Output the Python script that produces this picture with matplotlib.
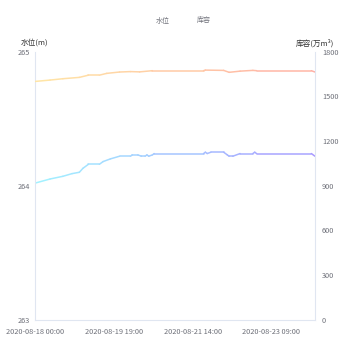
import numpy as np
import pandas as pd
import matplotlib
matplotlib.use('Agg')
import matplotlib.pyplot as plt
from matplotlib.collections import LineCollection
from matplotlib.colors import LinearSegmentedColormap

plt.rcParams['font.family'] = ['Noto Sans CJK SC', 'DejaVu Sans']

# time axis: hourly from 2020-08-18 00:00, label every 43 hours
start = pd.Timestamp('2020-08-18 00:00')
n_hours = 153
tick_hours = [0, 43, 86, 129]
tick_labels = [(start + pd.Timedelta(hours=h)).strftime('%Y-%m-%d %H:%M') for h in tick_hours]

# 水位 (m), left axis
level_hours = [0, 8, 15, 20, 24, 26, 29, 35, 37, 41, 46, 52, 53, 56, 58, 60, 61, 62,
               64, 65, 92, 93, 94, 96, 103, 105, 106, 108, 112, 119, 120, 121, 151, 153]
level = [264.02, 264.05, 264.07, 264.09, 264.10, 264.13, 264.16, 264.16, 264.18, 264.20,
         264.22, 264.22, 264.23, 264.23, 264.22, 264.22, 264.23, 264.22, 264.23, 264.24,
         264.24, 264.25, 264.24, 264.25, 264.25, 264.23, 264.22, 264.22, 264.24, 264.24,
         264.25, 264.24, 264.24, 264.22]

# 库容 (万m³), right axis
vol_hours = [0, 8, 15, 24, 29, 35, 39, 46, 52, 57, 64, 92, 93, 103, 106, 112, 119, 121, 151, 153]
volume = [1601, 1610, 1619, 1628, 1643, 1643, 1655, 1664, 1667, 1665, 1673, 1673, 1677,
          1675, 1662, 1670, 1675, 1673, 1673, 1664]

left_ticks = [263, 264, 265]
right_ticks = [0, 300, 600, 900, 1200, 1500, 1800]

grey = '#6e7079'
axis_col = '#e0e6f1'
blue_cmap = LinearSegmentedColormap.from_list('b', ['#a3f3ff', '#a99aff'])
orange_cmap = LinearSegmentedColormap.from_list('o', ['#ffe6a6', '#ffb0a6'])


def gradient_line(ax, x, y, cmap, lw=1.1):
    pts = np.column_stack([x, y])
    segs = np.stack([pts[:-1], pts[1:]], axis=1)
    mid = (np.asarray(x[:-1]) + np.asarray(x[1:])) / 2.0 / n_hours
    lc = LineCollection(segs, colors=cmap(mid), linewidths=lw, capstyle='round', joinstyle='round')
    ax.add_collection(lc)


fig = plt.figure(figsize=(3.5, 3.5), dpi=100)
ax1 = fig.add_axes([0.1014, 0.087, 0.7986, 0.765])
ax2 = ax1.twinx()

gradient_line(ax1, level_hours, level, blue_cmap)
gradient_line(ax2, vol_hours, volume, orange_cmap)

ax1.set_xlim(0, n_hours)
ax1.set_ylim(263, 265)
ax2.set_ylim(0, 1800)
ax1.set_yticks(left_ticks)
ax2.set_yticks(right_ticks)
ax1.set_xticks(tick_hours)
ax1.set_xticklabels(tick_labels)

for ax in (ax1, ax2):
    for s in ax.spines.values():
        s.set_visible(False)
    ax.tick_params(length=0, labelsize=5.3, labelcolor=grey)
ax1.spines['left'].set_visible(True)
ax1.spines['left'].set_color(axis_col)
ax1.spines['bottom'].set_visible(True)
ax1.spines['bottom'].set_color(axis_col)
ax2.spines['right'].set_visible(True)
ax2.spines['right'].set_color(axis_col)
ax1.tick_params(axis='y', pad=4)
ax2.tick_params(axis='y', pad=5)
ax1.tick_params(axis='x', pad=6)

# axis names
fig.text(0.1, 0.877, '水位(m)', fontsize=5.5, color='#333333', ha='center', va='center')
fig.text(0.9, 0.877, '库容(万m³)', fontsize=5.5, color='#333333', ha='center', va='center')

# legend texts
fig.text(0.464, 0.94, '水位', fontsize=5, color=grey, ha='center', va='center')
fig.text(0.583, 0.94, '库容', fontsize=5, color=grey, ha='center', va='center')

fig.savefig('out.png', dpi=100)
